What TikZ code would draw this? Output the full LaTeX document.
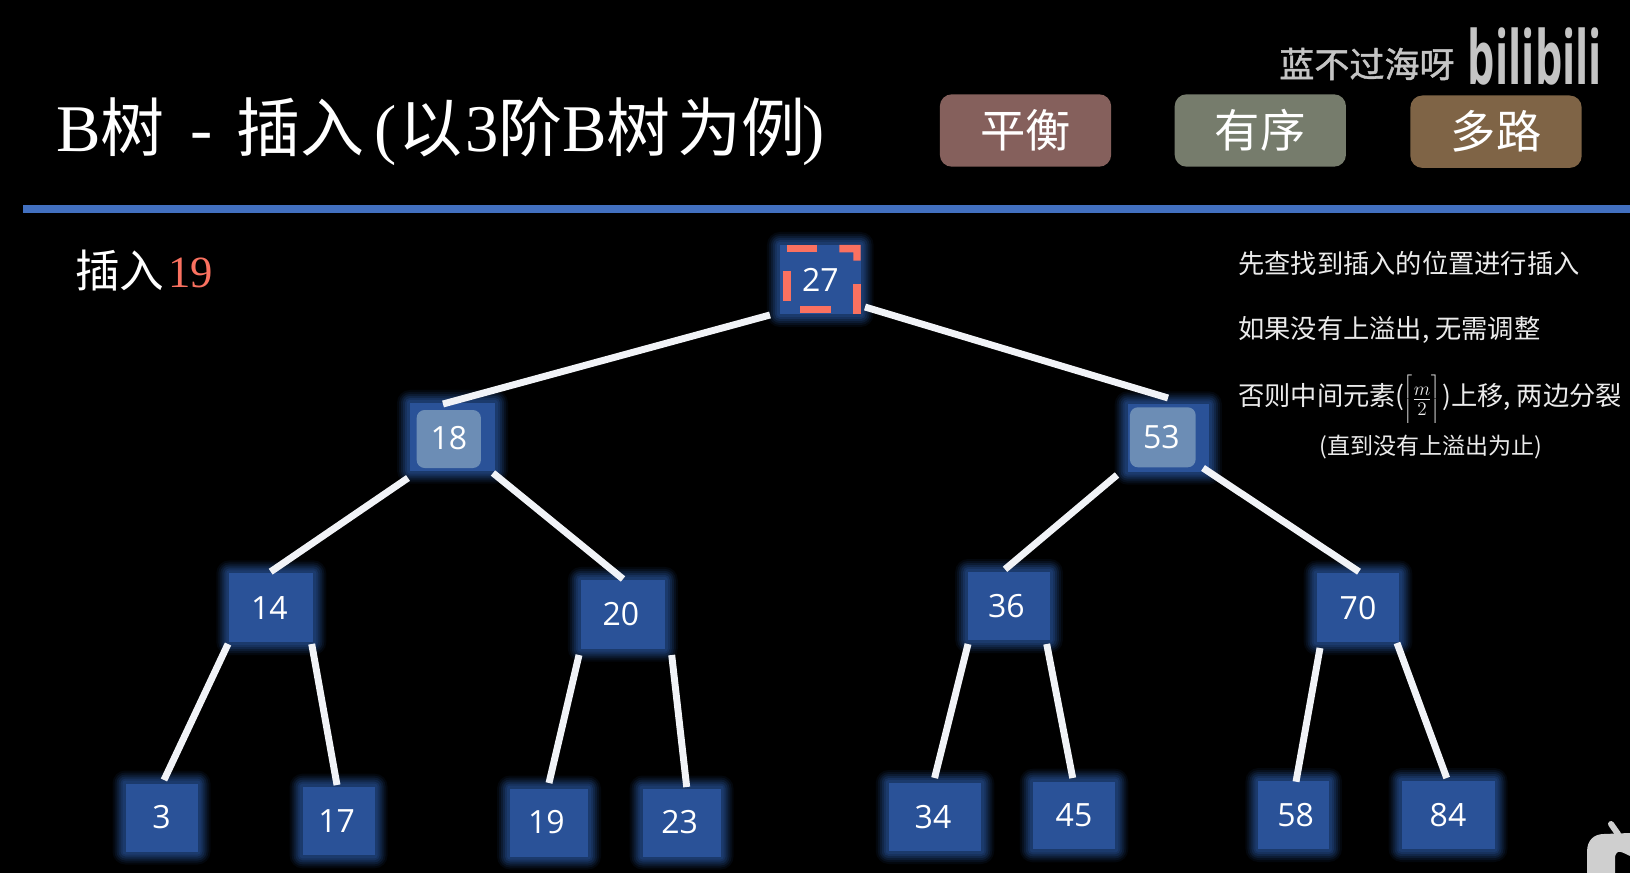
\documentclass[tikz,border=0pt]{standalone}
\usepackage{fontspec}
\setmainfont{Liberation Serif}
\newfontfamily\cjk{Noto Sans CJK SC}
\newfontfamily\wmfont[FakeBold=1.2]{Noto Sans CJK SC}
\newfontfamily\sans{Open Sans}
\newcommand{\tc}[1]{{\cjk\fontsize{48}{50}\selectfont #1}}
\definecolor{nodeblue}{HTML}{2A5298}
\definecolor{glowblue}{HTML}{2F5FB0}
\definecolor{rulecol}{HTML}{4270C0}
\definecolor{redc}{HTML}{FA7160}
\definecolor{innerc}{HTML}{6C8DB5}
\definecolor{tagr}{HTML}{85605C}
\definecolor{tagg}{HTML}{767C6C}
\definecolor{tagb}{HTML}{7F6446}
\definecolor{wmark}{HTML}{C4C4C4}
\definecolor{tvc}{HTML}{CFCFCF}
\definecolor{edgec}{HTML}{F1F3F7}
\tikzset{
  x=0.75pt,y=-0.75pt,
  tnode/.style={rectangle,inner sep=0pt,fill=nodeblue,text=white,font=\sans\fontsize{24}{24}\selectfont},
  tagbox/.style={rectangle,rounded corners=9pt,minimum width=128.5pt,minimum height=54.3pt,inner sep=0pt,text=white,font=\cjk\fontsize{34}{34}\selectfont},
  treeedge/.style={line width=5.2pt,color=edgec},
  notetext/.style={text=white!92!black,font=\cjk\fontsize{19.7}{22}\selectfont,anchor=west,inner sep=0pt},
  innerbox/.style={rectangle,rounded corners=6pt,inner sep=0pt,fill=innerc,text=white,font=\sans\fontsize{24}{24}\selectfont},
}
\newcommand{\glownode}[6]{% name, cx, cy, w, h, label
  \foreach \g/\o in {13/0.08,11/0.11,9/0.14,7/0.17,5/0.20,3/0.20}{
    \fill[glowblue,opacity=\o,rounded corners=\g*0.75pt]
      (#2-#4/2-\g,#3-#5/2-\g) rectangle (#2+#4/2+\g,#3+#5/2+\g);}
  \node[tnode,minimum width=#4*0.75pt,minimum height=#5*0.75pt] (#1) at (#2,#3) {#6};
}
\newcommand{\conn}[6]{\draw[treeedge] ([shift={(#2,#3)}]#1.center) -- ([shift={(#5,#6)}]#4.center);}
\begin{document}
\begin{tikzpicture}
\useasboundingbox (0,0) rectangle (1630,873);
\fill[black] (0,0) rectangle (1630,873);
% title
\node[anchor=west,inner sep=0pt,text=white,font=\fontsize{50}{50}\selectfont] (title) at (56,132)
  {B\tc{树}\kern19pt-\kern18pt\tc{插入}\kern8pt(\kern1pt\tc{以}\kern2pt 3\tc{阶}B\tc{树}\kern5pt\tc{为例}\kern-2pt)};
\fill[rulecol] (22.8,205) rectangle (1630,213);
\node[anchor=west,inner sep=0pt,text=white,font=\fontsize{33.5}{34}\selectfont] (ins) at (75,271)
  {{\cjk 插入}\kern3pt\textcolor{redc}{19}};
% tags
\node[tagbox,fill=tagr] (t1) at (1025.5,130.5) {平衡};
\node[tagbox,fill=tagg] (t2) at (1260.3,130.5) {有序};
\node[tagbox,fill=tagb] (t3) at (1496,131.7) {多路};
% watermark
\node[anchor=west,inner sep=0pt,text=wmark,font=\wmfont\fontsize{26.3}{26.3}\selectfont] (wm) at (1279,64) {蓝不过海呀};
\node[anchor=center,inner sep=0pt,text=wmark,font=\sans\bfseries\fontsize{56}{56}\selectfont] (bili) at (1535,57) {\scalebox{0.58}[1]{bilibili}};
% corner icon
\fill[tvc] (1587,873) -- (1587,852) .. controls (1587,840) and (1594,834) .. (1604,834) -- (1630,833) -- (1630,856)
  .. controls (1624,853) and (1620,851) .. (1618,852) .. controls (1615,854) and (1615,856) .. (1615,860) -- (1615,873) -- cycle;
\draw[tvc,line width=4.5pt,line cap=round] (1611,824) -- (1618,834);
% notes
\node[notetext] (n1) at (1238,263) {先查找到插入的位置进行插入};
\node[notetext] (n2) at (1238,330) {如果没有上溢出, 无需调整};
\node[notetext] (n3) at (1238,400) {否则中间元素(\kern-1pt$\left\lceil\vphantom{\displaystyle\frac{m}{2}}\frac{m}{2}\right\rceil$\kern1pt)上移, 两边分裂};
\node[notetext,font=\cjk\fontsize{17.3}{20}\selectfont] (n4) at (1319,446.7) {(直到没有上溢出为止)};
% tree nodes
\glownode{n27}{820.3}{279.5}{80.7}{69}{27}
\glownode{n18}{452.5}{436.8}{85}{67.7}{}
\glownode{n53}{1168.3}{438}{81.3}{67.4}{}
\glownode{n14}{271.3}{607.7}{84}{68.7}{\kern-3pt 14}
\glownode{n20}{622.8}{614.3}{84}{68.7}{\kern-3pt\raisebox{-1.5pt}{20}}
\glownode{n36}{1009}{606}{81.7}{68}{\kern-4pt 36}
\glownode{n70}{1358}{607.7}{82.7}{68.7}{70}
\glownode{n3}{161.5}{817.5}{72}{68}{\raisebox{-1pt}{3}}
\glownode{n17}{338.6}{821}{72}{68.6}{\kern-3pt 17}
\glownode{n19}{549}{822.5}{78}{68}{\kern-4pt 19}
\glownode{n23}{681.6}{822.5}{78}{68}{\kern-3pt 23}
\glownode{n34}{935}{817}{92.5}{68}{\kern-3pt 34}
\glownode{n45}{1074}{815.5}{82.5}{67.6}{45}
\glownode{n58}{1293.7}{815}{70.5}{68}{\kern3pt 58}
\glownode{n84}{1448}{815}{93}{68}{84}
\node[innerbox,minimum width=48.2pt,minimum height=43.5pt] (i18) at (448.8,439) {\raisebox{1pt}{18}};
\node[innerbox,minimum width=49.3pt,minimum height=45pt] (i53) at (1162.8,437.3) {\kern-2pt 53};
% red dashed frame on 27
\fill[redc] (786.7,245) rectangle (817.3,252.3);
\fill[redc] (839.3,245) -- (860.7,245) -- (860.7,260.7) -- (853.3,260.7) -- (853.3,252.3) -- (839.3,252.3) -- cycle;
\fill[redc] (783.3,270.7) rectangle (790.7,300.7);
\fill[redc] (853.3,284) rectangle (860.7,314);
\fill[redc] (800,306) rectangle (830.7,313.3);
% connectors
\conn{n27}{-50.3}{35.5}{n18}{-9.5}{-32.8}
\conn{n27}{44.7}{27.5}{n53}{-0.3}{-40}
\conn{n18}{-44.5}{41.2}{n14}{-0.6}{-36}
\conn{n18}{40.5}{36.2}{n20}{0.2}{-35.3}
\conn{n53}{-51.3}{37}{n36}{-4}{-36.7}
\conn{n53}{34.7}{30}{n70}{1}{-36}
\conn{n14}{-43.3}{36.3}{n3}{2.5}{-37.5}
\conn{n14}{40.4}{36.3}{n17}{-1.6}{-36}
\conn{n20}{-43.8}{40.7}{n19}{0}{-39.5}
\conn{n20}{48.9}{40.7}{n23}{5.1}{-35.5}
\conn{n36}{-41}{38}{n34}{-0.4}{-39}
\conn{n36}{37.7}{38}{n45}{-1.3}{-37.5}
\conn{n70}{-38}{40.3}{n58}{2.3}{-33.3}
\conn{n70}{39}{35.3}{n84}{-1.3}{-37}
\end{tikzpicture}
\end{document}
